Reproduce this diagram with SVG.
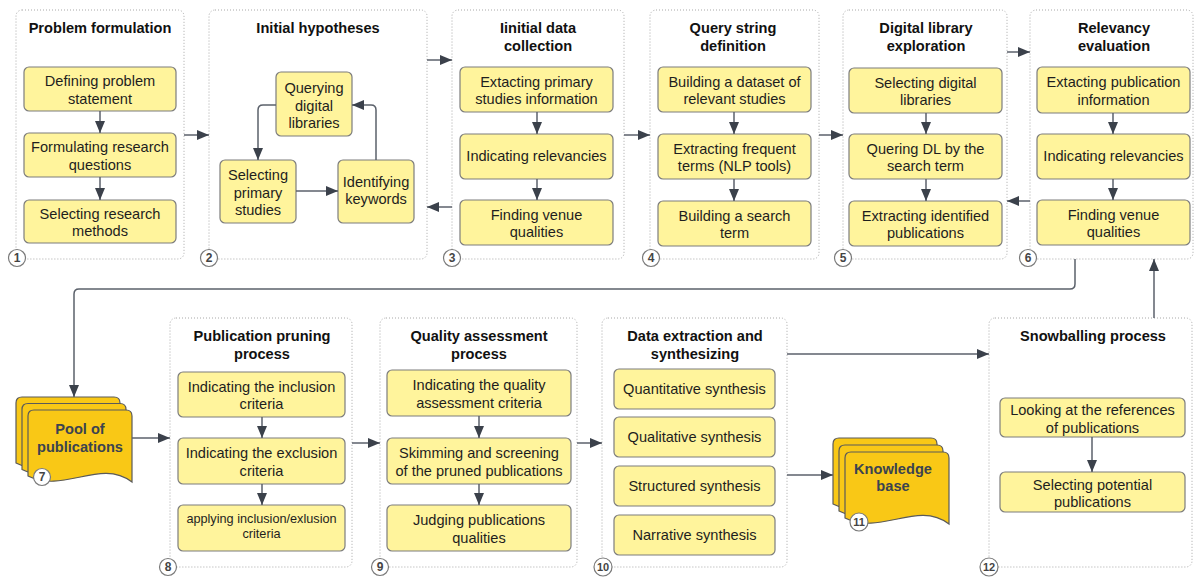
<svg xmlns="http://www.w3.org/2000/svg" width="1195" height="577" viewBox="0 0 1195 577">
<style>
.cont{fill:none;stroke:#a8a8a8;stroke-width:1;stroke-dasharray:1 2}
.box{fill:#FFF49C;stroke:#7d7d7d;stroke-width:1.2}
.bt{font-family:"Liberation Sans",Arial,sans-serif;font-size:14.6px;fill:#1e1e1e;text-anchor:middle}
.sm{font-size:12.7px}
.tt{font-family:"Liberation Sans",Arial,sans-serif;font-size:14.6px;font-weight:bold;fill:#111;text-anchor:middle}
.doc{fill:#F9C816;stroke:#5a5a5a;stroke-width:1.2}
.dt{font-family:"Liberation Sans",Arial,sans-serif;font-size:14.6px;font-weight:bold;fill:#3b4350;text-anchor:middle}
.num circle{fill:#fff;stroke:#7a7a7a;stroke-width:1.2}
.nt{font-family:"Liberation Sans",Arial,sans-serif;font-size:12px;font-weight:bold;fill:#444;text-anchor:middle}
.c{fill:none;stroke:#5b616b;stroke-width:1.5;marker-end:url(#ah)}
</style>
<defs>
<marker id="ah" markerUnits="userSpaceOnUse" markerWidth="12" markerHeight="10" refX="12" refY="5" orient="auto">
<path d="M0,0 L12,5 L0,10 Z" fill="#3b414b"/>
</marker>
<path id="docshape" d="M6,0 H98 Q104,0 104,6 V72 C72,48 36,84 0,66 V6 Q0,0 6,0 Z"/>
</defs>

<g id="n1">
<rect class="cont" x="16" y="10" width="168" height="249" rx="6"/>
<text class="tt" x="100" y="33">Problem formulation</text>
<rect class="box" x="24" y="67" width="152" height="44" rx="5"/>
<text class="bt" x="100" y="86">Defining problem<tspan x="100" y="103.5">statement</tspan></text>
<rect class="box" x="24" y="133" width="152" height="44" rx="5"/>
<text class="bt" x="100" y="152">Formulating research<tspan x="100" y="169.5">questions</tspan></text>
<rect class="box" x="24" y="200" width="152" height="43" rx="5"/>
<text class="bt" x="100" y="218.5">Selecting research<tspan x="100" y="236">methods</tspan></text>
<g class="num"><circle cx="17" cy="258" r="8.5"/><text class="nt" x="17" y="262.3">1</text></g>
</g>

<g id="n2">
<rect class="cont" x="209" y="10" width="218" height="249" rx="6"/>
<text class="tt" x="318" y="33">Initial hypotheses</text>
<rect class="box" x="276" y="72" width="76" height="64" rx="5"/>
<text class="bt" x="314" y="92.5">Querying<tspan x="314" y="110.5">digital</tspan><tspan x="314" y="128">libraries</tspan></text>
<rect class="box" x="220" y="160" width="76" height="63" rx="5"/>
<text class="bt" x="258" y="180">Selecting<tspan x="258" y="197.5">primary</tspan><tspan x="258" y="215">studies</tspan></text>
<rect class="box" x="338" y="160" width="76" height="63" rx="5"/>
<text class="bt" x="376" y="186.5">Identifying<tspan x="376" y="204">keywords</tspan></text>
<g class="num"><circle cx="209" cy="258" r="8.5"/><text class="nt" x="209" y="262.3">2</text></g>
</g>

<g id="n3">
<rect class="cont" x="452" y="10" width="172" height="249" rx="6"/>
<text class="tt" x="538" y="33">Iinitial data<tspan x="538" y="51">collection</tspan></text>
<rect class="box" x="460" y="67" width="153" height="45" rx="5"/>
<text class="bt" x="536.5" y="86.5">Extacting primary<tspan x="536.5" y="104">studies information</tspan></text>
<rect class="box" x="460" y="134" width="153" height="45" rx="5"/>
<text class="bt" x="536.5" y="161">Indicating relevancies</text>
<rect class="box" x="460" y="200" width="153" height="45" rx="5"/>
<text class="bt" x="536.5" y="219.5">Finding venue<tspan x="536.5" y="237">qualities</tspan></text>
<g class="num"><circle cx="452" cy="258" r="8.5"/><text class="nt" x="452" y="262.3">3</text></g>
</g>

<g id="n4">
<rect class="cont" x="650" y="10" width="169" height="249" rx="6"/>
<text class="tt" x="733" y="33">Query string<tspan x="733" y="51">definition</tspan></text>
<rect class="box" x="658" y="67" width="153" height="45" rx="5"/>
<text class="bt" x="734.5" y="86.5">Building a dataset of<tspan x="734.5" y="104">relevant studies</tspan></text>
<rect class="box" x="658" y="134" width="153" height="45" rx="5"/>
<text class="bt" x="734.5" y="153.5">Extracting frequent<tspan x="734.5" y="171">terms (NLP tools)</tspan></text>
<rect class="box" x="658" y="201" width="153" height="45" rx="5"/>
<text class="bt" x="734.5" y="220.5">Building a search<tspan x="734.5" y="238">term</tspan></text>
<g class="num"><circle cx="651" cy="258" r="8.5"/><text class="nt" x="651" y="262.3">4</text></g>
</g>

<g id="n5">
<rect class="cont" x="843" y="10" width="164" height="249" rx="6"/>
<text class="tt" x="926" y="33">Digital library<tspan x="926" y="51">exploration</tspan></text>
<rect class="box" x="849" y="68" width="153" height="45" rx="5"/>
<text class="bt" x="925.5" y="87.5">Selecting digital<tspan x="925.5" y="105">libraries</tspan></text>
<rect class="box" x="849" y="134" width="153" height="45" rx="5"/>
<text class="bt" x="925.5" y="153.5">Quering DL by the<tspan x="925.5" y="171">search term</tspan></text>
<rect class="box" x="849" y="201" width="153" height="45" rx="5"/>
<text class="bt" x="925.5" y="220.5">Extracting identified<tspan x="925.5" y="238">publications</tspan></text>
<g class="num"><circle cx="843" cy="258" r="8.5"/><text class="nt" x="843" y="262.3">5</text></g>
</g>

<g id="n6">
<rect class="cont" x="1030" y="10" width="163" height="249" rx="6"/>
<text class="tt" x="1114" y="33">Relevancy<tspan x="1114" y="51">evaluation</tspan></text>
<rect class="box" x="1037" y="67" width="153" height="46" rx="5"/>
<text class="bt" x="1113.5" y="87">Extacting publication<tspan x="1113.5" y="104.5">information</tspan></text>
<rect class="box" x="1037" y="134" width="153" height="45" rx="5"/>
<text class="bt" x="1113.5" y="161">Indicating relevancies</text>
<rect class="box" x="1037" y="200" width="153" height="45" rx="5"/>
<text class="bt" x="1113.5" y="219.5">Finding venue<tspan x="1113.5" y="237">qualities</tspan></text>
<g class="num"><circle cx="1028" cy="258" r="8.5"/><text class="nt" x="1028" y="262.3">6</text></g>
</g>

<g id="n7">
<use href="#docshape" class="doc" x="16" y="397"/>
<use href="#docshape" class="doc" x="22" y="403.5"/>
<use href="#docshape" class="doc" x="28" y="410"/>
<text class="dt" x="80" y="434">Pool of<tspan x="80" y="452">publications</tspan></text>
<g class="num"><circle cx="42" cy="477" r="8.5"/><text class="nt" x="42" y="481.3">7</text></g>
</g>

<g id="n8">
<rect class="cont" x="170" y="318" width="182" height="249" rx="6"/>
<text class="tt" x="262" y="341">Publication pruning<tspan x="262" y="359">process</tspan></text>
<rect class="box" x="178" y="372" width="167" height="45" rx="5"/>
<text class="bt" x="261.5" y="391.5">Indicating the inclusion<tspan x="261.5" y="409">criteria</tspan></text>
<rect class="box" x="178" y="438" width="167" height="46" rx="5"/>
<text class="bt" x="261.5" y="458">Indicating the exclusion<tspan x="261.5" y="475.5">criteria</tspan></text>
<rect class="box" x="178" y="505" width="167" height="46" rx="5"/>
<text class="bt sm" x="261.5" y="522.5">applying inclusion/exlusion<tspan x="261.5" y="538">criteria</tspan></text>
<g class="num"><circle cx="168" cy="567" r="8.5"/><text class="nt" x="168" y="571.3">8</text></g>
</g>

<g id="n9">
<rect class="cont" x="380" y="318" width="197" height="249" rx="6"/>
<text class="tt" x="479" y="341">Quality assessment<tspan x="479" y="359">process</tspan></text>
<rect class="box" x="387" y="370" width="184" height="46" rx="5"/>
<text class="bt" x="479" y="390">Indicating the quality<tspan x="479" y="407.5">assessment criteria</tspan></text>
<rect class="box" x="387" y="438" width="184" height="46" rx="5"/>
<text class="bt" x="479" y="458">Skimming and screening<tspan x="479" y="475.5">of the pruned publications</tspan></text>
<rect class="box" x="387" y="505" width="184" height="46" rx="5"/>
<text class="bt" x="479" y="525">Judging publications<tspan x="479" y="542.5">qualities</tspan></text>
<g class="num"><circle cx="380" cy="567" r="8.5"/><text class="nt" x="380" y="571.3">9</text></g>
</g>

<g id="n10">
<rect class="cont" x="602" y="318" width="185" height="249" rx="6"/>
<text class="tt" x="695" y="341">Data extraction and<tspan x="695" y="359">synthesizing</tspan></text>
<rect class="box" x="614" y="369" width="161" height="40" rx="5"/>
<text class="bt" x="694.5" y="393.5">Quantitative synthesis</text>
<rect class="box" x="614" y="417" width="161" height="40" rx="5"/>
<text class="bt" x="694.5" y="441.5">Qualitative synthesis</text>
<rect class="box" x="614" y="466" width="161" height="40" rx="5"/>
<text class="bt" x="694.5" y="490.5">Structured synthesis</text>
<rect class="box" x="614" y="515" width="161" height="40" rx="5"/>
<text class="bt" x="694.5" y="539.5">Narrative synthesis</text>
<g class="num"><circle cx="603" cy="567" r="9"/><text class="nt" x="603" y="571.3" style="font-size:11px">10</text></g>
</g>

<g id="n11">
<use href="#docshape" class="doc" x="833" y="438"/>
<use href="#docshape" class="doc" x="839" y="445"/>
<use href="#docshape" class="doc" x="845" y="452"/>
<text class="dt" x="893" y="474">Knowledge<tspan x="893" y="491">base</tspan></text>
<g class="num"><circle cx="859" cy="522" r="9"/><text class="nt" x="859" y="526.3" style="font-size:11px">11</text></g>
</g>

<g id="n12">
<rect class="cont" x="989" y="318" width="203" height="249" rx="6"/>
<text class="tt" x="1093" y="341">Snowballing process</text>
<rect class="box" x="1000" y="398" width="185" height="39" rx="5"/>
<text class="bt" x="1092.5" y="415">Looking at the references<tspan x="1092.5" y="432.5">of publications</tspan></text>
<rect class="box" x="1000" y="472" width="185" height="40" rx="5"/>
<text class="bt" x="1092.5" y="489.5">Selecting potential<tspan x="1092.5" y="507">publications</tspan></text>
<g class="num"><circle cx="989" cy="567" r="9"/><text class="nt" x="989" y="571.3" style="font-size:11px">12</text></g>
</g>

<g id="connectors">
<path class="c" d="M100,111 V133"/>
<path class="c" d="M100,177 V200"/>
<path class="c" d="M184,135 H209"/>
<path class="c" d="M276,105 H263 Q258,105 258,110 V160"/>
<path class="c" d="M296,191 H338"/>
<path class="c" d="M376,160 V110 Q376,105 371,105 H352"/>
<path class="c" d="M427,60 H452"/>
<path class="c" d="M452,207 H427"/>
<path class="c" d="M537,112 V134"/>
<path class="c" d="M537,179 V200"/>
<path class="c" d="M624,135 H650"/>
<path class="c" d="M734,112 V134"/>
<path class="c" d="M734,179 V201"/>
<path class="c" d="M819,135 H843"/>
<path class="c" d="M926,113 V134"/>
<path class="c" d="M926,179 V201"/>
<path class="c" d="M1007,52 H1030"/>
<path class="c" d="M1030,201 H1007"/>
<path class="c" d="M1113,113 V134"/>
<path class="c" d="M1113,179 V200"/>
<path class="c" d="M1075,259 V284 Q1075,289 1070,289 H79 Q74,289 74,294 V397"/>
<path class="c" d="M132,438 H170"/>
<path class="c" d="M262,417 V438"/>
<path class="c" d="M262,484 V505"/>
<path class="c" d="M352,443 H380"/>
<path class="c" d="M479,416 V438"/>
<path class="c" d="M479,484 V505"/>
<path class="c" d="M577,443 H602"/>
<path class="c" d="M787,354 H989"/>
<path class="c" d="M787,475 H833"/>
<path class="c" d="M1092,437 V472"/>
<path class="c" d="M1154,318 V259"/>
</g>
</svg>
